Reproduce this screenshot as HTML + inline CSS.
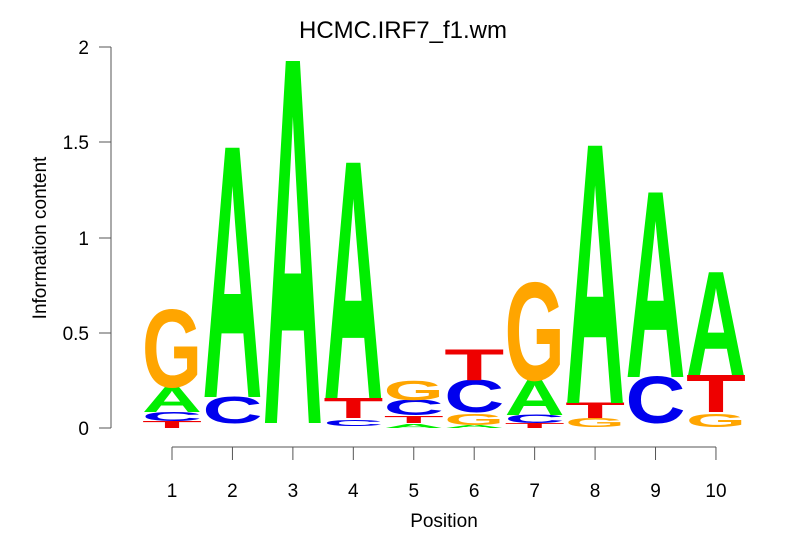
<!DOCTYPE html>
<html><head><meta charset="utf-8"><style>body{margin:0;background:#fff}svg{display:block}</style></head><body>
<svg width="806" height="559" xmlns="http://www.w3.org/2000/svg" font-family="Liberation Sans, sans-serif">
<rect width="806" height="559" fill="#fff"/>
<text x="403" y="38" font-size="24" text-anchor="middle">HCMC.IRF7_f1.wm</text>
<g stroke="#555" stroke-width="1">
<line x1="111" y1="428" x2="111" y2="47"/>
<line x1="99" y1="428" x2="111" y2="428"/>
<line x1="99" y1="333" x2="111" y2="333"/>
<line x1="99" y1="238" x2="111" y2="238"/>
<line x1="99" y1="142" x2="111" y2="142"/>
<line x1="99" y1="47" x2="111" y2="47"/>
<line x1="172" y1="447" x2="716" y2="447"/>
</g>
<g font-size="19" text-anchor="end">
<text x="89" y="435">0</text>
<text x="89" y="340">0.5</text>
<text x="89" y="245">1</text>
<text x="89" y="149">1.5</text>
<text x="89" y="54">2</text>
</g>
<g font-size="19" text-anchor="middle">
<text transform="translate(46,238) rotate(-90)">Information content</text>
<text x="444" y="527">Position</text>
</g>
<g id="xt" font-size="19" text-anchor="middle" stroke="#555"></g>
<g id="logo" font-weight="bold" font-size="100"></g>
<script>
var xt=document.getElementById('xt'),lg=document.getElementById('logo'),ns='http://www.w3.org/2000/svg';
for(var i=0;i<10;i++){var x=172+i*60.44;
var l=document.createElementNS(ns,'line');l.setAttribute('x1',x);l.setAttribute('x2',x);l.setAttribute('y1',447);l.setAttribute('y2',460);xt.appendChild(l);
var t=document.createElementNS(ns,'text');t.setAttribute('x',x);t.setAttribute('y',497);t.setAttribute('stroke','none');t.textContent=i+1;xt.appendChild(t);}
var col={A:'#00ee00',C:'#0000ee',G:'#ffa500',T:'#ee0000'};
var d=[
[['T',428,421],['C',421,412],['A',412,387],['G',387,310]],
[['C',423,397],['A',397,147]],
[['A',423,60]],
[['C',426,420],['T',418,398],['A',398,162]],
[['A',428,424],['T',423,416],['C',415,400],['G',400,381]],
[['A',428,425],['G',425,414],['C',412,380],['T',380,349]],
[['T',428,423],['C',423,415],['A',415,380],['G',380,283]],
[['G',427,418],['T',418,403],['A',403,145]],
[['C',423,377],['A',377,192]],
[['G',427,414],['T',412,375],['A',375,272]]];
d.forEach(function(c,i){var x=172+i*60.44-30;c.forEach(function(s){
var h=s[1]-s[2];var t=document.createElementNS(ns,'text');
t.setAttribute('x',0);t.setAttribute('y',0);t.setAttribute('textLength',60);t.setAttribute('lengthAdjust','spacingAndGlyphs');
t.setAttribute('fill',col[s[0]]);t.setAttribute('transform','translate('+x+','+s[1]+') scale(1,'+(h/69)+')');
t.textContent=s[0];lg.appendChild(t);});});
</script>
</svg>
</body></html>
